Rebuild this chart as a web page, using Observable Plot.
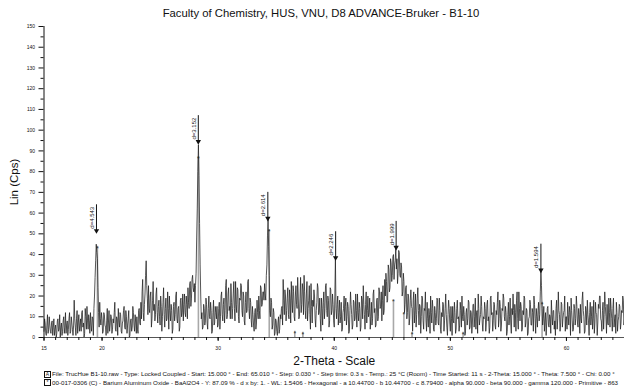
<!DOCTYPE html>
<html>
<head>
<meta charset="utf-8">
<script src="https://cdn.jsdelivr.net/npm/d3@7"></script>
<script src="https://cdn.jsdelivr.net/npm/@observablehq/plot@0.6"></script>
<style>
  html, body { margin: 0; padding: 0; background: #fff; }
  #wrap { position: relative; width: 624px; height: 386px; overflow: hidden; font-family: "Liberation Sans", Arial, sans-serif; }
  #title { position: absolute; top: 7px; left: 0; width: 642px; text-align: center; font-size: 11.3px; color: #111; }
  .foot { position: absolute; left: 44px; font-size: 6.2px; color: #111; white-space: nowrap; line-height: 7px; }
  .ico { display: inline-block; width: 5px; height: 5px; border: 0.6px solid #111; font-size: 5px; line-height: 5px; text-align: center; margin-right: 1px; vertical-align: middle; }
  #chart { position: absolute; top: 0; left: 0; }
</style>
</head>
<body>
<div id="wrap">
  <div id="chart"></div>
  <div id="title">Faculty of Chemistry, HUS, VNU, D8 ADVANCE-Bruker - B1-10</div>
  <div class="foot" style="top:370px"><span class="ico">A</span>File: TrucHue B1-10.raw - Type: Locked Coupled - Start: 15.000 ° - End: 65.010 ° - Step: 0.030 ° - Step time: 0.3 s - Temp.: 25 °C (Room) - Time Started: 11 s - 2-Theta: 15.000 ° - Theta: 7.500 ° - Chi: 0.00 °</div>
  <div class="foot" style="top:378.5px"><span class="ico">*</span>00-017-0306 (C) - Barium Aluminum Oxide - BaAl2O4 - Y: 87.09 % - d x by: 1. - WL: 1.5406 - Hexagonal - a 10.44700 - b 10.44700 - c 8.79400 - alpha 90.000 - beta 90.000 - gamma 120.000 - Primitive - 863</div>
</div>
<script>
// Intensity (Lin, Cps) per 0.05° 2-Theta, one row per degree starting at 15°
const thetaStart = 15;
const stepsPerDegree = 20;
const counts = [
  [3,9,7,2,1,6,11,2,4,10,6,3,2,7,8,1,5,9,1,4],          // 15
  [6,0,2,8,9,3,4,11,0,5,7,1,3,8,10,2,5,12,2,6],         // 16
  [8,1,4,9,12,2,3,10,7,4,1,6,18,9,5,1,9,13,2,7],        // 17
  [11,3,6,9,3,12,13,5,7,0,2,14,10,4,15,8,4,11,8,2],     // 18
  [12,6,3,10,9,1,14,20,29,37,45,41,38,24,12,5,17,9,6,12], // 19
  [9,2,3,12,11,6,5,1,8,14,2,7,13,3,6,11,10,2,4,9],      // 20
  [7,12,17,4,3,10,9,1,14,8,5,12,11,3,2,7,8,13,15,5],    // 21
  [4,13,10,2,6,9,13,0,1,8,9,3,5,15,12,6,3,11,7,2],      // 22
  [10,4,2,13,14,7,6,17,9,22,28,12,8,16,21,30,37,25,19,11], // 23
  [25,14,12,20,22,5,9,18,27,13,16,8,11,21,24,12,7,15,18,10], // 24
  [6,20,15,3,10,17,24,11,5,14,19,8,9,22,14,4,20,13,8,16], // 25
  [13,2,4,15,17,8,11,20,22,9,7,14,15,3,5,18,19,10,12,21], // 26
  [8,16,21,12,10,20,16,9,24,17,14,26,27,15,19,28,30,24,22,26], // 27
  [17,25,31,48,62,80,93,78,55,35,20,9,12,4,5,16,14,6,8,19], // 28
  [16,7,4,14,20,10,9,17,13,2,3,12,18,6,7,15,12,9,15,5], // 29
  [6,14,17,4,10,20,22,11,8,16,19,7,13,25,28,9,11,21,24,13], // 30
  [15,9,26,17,9,14,21,27,14,8,27,16,12,24,23,10,7,19,18,26], // 31
  [25,13,10,22,20,8,6,17,22,12,13,27,28,14,9,19,17,8,5,15], // 32
  [11,6,3,12,14,4,7,18,12,9,20,13,9,25,24,15,16,22,22,18], // 33
  [26,21,18,30,35,49,57,44,30,13,10,19,17,4,6,14,12,1,2,9], // 34
  [8,3,1,7,10,2,4,11,9,14,15,6,28,18,11,23,20,8,13,19], // 35
  [24,11,9,23,19,7,27,18,12,25,22,10,8,20,25,16,14,29,20,9], // 36
  [10,19,29,12,16,26,23,11,30,22,13,9,21,27,8,14,18,25,11,4], // 37
  [26,15,7,18,15,23,20,9,5,13,17,26,24,11,12,19,9,3,19,14], // 38
  [6,17,22,9,14,25,26,13,10,20,18,5,8,24,23,11,13,21,16,8], // 39
  [5,20,38,14,9,16,20,6,12,18,7,10,17,3,4,12,14,20,8,15], // 40
  [19,6,10,17,15,2,3,13,22,16,11,4,6,18,17,8,9,21,13,5], // 41
  [21,12,8,17,14,3,5,20,18,9,25,16,11,4,16,22,7,13,20,10], // 42
  [12,19,4,10,17,6,9,21,23,12,14,5,6,18,19,8,10,24,22,14], // 43
  [15,22,8,18,25,11,13,28,20,31,27,17,18,35,33,22,24,38,36,27], // 44
  [30,39,40,28,35,37,43,33,38,26,31,42,41,30,29,36,34,20,22,31], // 45
  [27,12,16,24,25,9,12,21,20,6,9,18,23,15,14,3,18,22,7,13], // 46
  [21,5,11,19,24,13,6,16,15,2,10,20,19,8,4,14,13,22,8,3], // 47
  [17,9,5,14,11,2,20,12,7,18,14,4,3,15,12,6,9,19,18,7], // 48
  [6,19,13,4,2,12,10,17,16,3,8,14,21,11,5,1,11,18,14,7], // 49
  [3,15,9,1,15,8,7,17,12,2,4,14,18,9,10,3,6,17,13,5], // 50
  [20,10,8,15,11,1,2,12,14,6,9,18,17,4,5,13,12,2,7,16], // 51
  [16,5,10,19,4,12,13,2,21,14,6,9,11,20,15,7,3,10,9,17], // 52
  [14,3,7,16,18,8,10,2,5,19,20,11,12,3,8,17,16,6,4,13], // 53
  [11,17,22,5,9,18,15,3,6,14,13,21,19,10,8,15,12,1,3,11], // 54
  [17,6,10,19,7,2,14,11,21,13,5,16,12,3,18,22,9,4,22,14], // 55
  [8,17,15,3,4,13,11,20,19,5,7,14,13,1,2,9,10,18,16,6], // 56
  [6,14,12,3,20,16,9,2,14,10,5,13,17,8,11,22,32,25,14,6], // 57
  [9,15,3,8,12,1,7,14,15,6,5,11,10,2,18,11,6,13,13,4], // 58
  [8,1,14,18,4,9,22,13,11,3,7,17,16,5,9,12,13,20,3,10], // 59
  [10,4,17,11,6,15,12,1,19,13,8,3,4,16,14,6,9,20,15,7], // 60
  [5,14,11,2,16,9,7,18,22,13,10,2,3,15,13,6,18,11,8,1], // 61
  [12,17,6,10,15,4,9,18,2,7,17,12,11,1,7,16,14,20,20,9], // 62
  [8,3,13,17,4,11,22,15,10,2,16,7,6,19,12,5,19,14,9,3], // 63
  [14,19,5,9,11,2,17,12,3,8,10,16,15,4,7,13,12,20,18,6], // 64
  [9]                                                    // 65
];

// Marked peaks
const peakTheta = [19.52, 28.29, 34.28, 40.12, 45.33, 57.80];
const peakLabel = ["d=4.543", "d=3.152", "d=2.614", "d=2.246", "d=1.999", "d=1.594"];
const peakI = [51, 94, 57, 38, 43, 32];

// Reference pattern sticks (00-017-0306 BaAl2O4)
const refTheta = [19.6, 28.3, 34.4, 36.6, 37.3, 45.1, 46.0, 46.7, 51.1, 57.9];
const refI = [44, 87, 52, 3, 2.5, 18, 12, 2.5, 2.5, 17];

// Axis ticks
const xTickLabels = [15, 20, 30, 40, 50, 60];
const xMinorTicks = d3.range(15, 66, 1);
const yTickLabels = d3.range(0, 151, 10);
const yMinorTicks = d3.range(5, 150, 10);

const scan = counts.flatMap((row, r) => row.map((v, i) => ({t: thetaStart + r + i / stepsPerDegree, c: v})));
const peaks = peakTheta.map((t, i) => ({t, label: peakLabel[i], y: peakI[i]}));
const refs = refTheta.map((t, i) => ({t, y: refI[i]}));

const chart = Plot.plot({
  width: 624,
  height: 386,
  marginLeft: 43.5,
  marginRight: 0,
  marginTop: 26,
  marginBottom: 49,
  style: {fontFamily: "'Liberation Sans', Arial, sans-serif", background: "transparent", color: "#111"},
  x: {domain: [15, 65]},
  y: {domain: [0, 150]},
  marks: [
    // reference sticks
    Plot.ruleX(refs, {x: "t", y1: 0, y2: "y", stroke: "#a8a8a8", strokeWidth: 1.6}),
    Plot.text(refs, {x: "t", y: "y", text: () => "*", fontSize: 7, fill: "#333", dy: 2}),
    // scan
    Plot.line(scan, {x: "t", y: "c", stroke: "#1e1e1e", strokeWidth: 0.75}),
    // axes lines
    Plot.ruleY([0], {stroke: "#555", strokeWidth: 1}),
    Plot.ruleX([15], {y1: 0, y2: 150, stroke: "#111", strokeWidth: 1}),
    Plot.axisY(yTickLabels, {tickSize: 5, tickPadding: 4, fontSize: 5, label: null, tickFormat: d => String(d)}),
    Plot.axisY(yMinorTicks, {tickSize: 3, tickFormat: () => "", label: null}),
    Plot.axisX(xMinorTicks, {tickSize: 3, tickFormat: () => "", label: null}),
    Plot.axisX(xTickLabels, {tickSize: 4, tickPadding: 5, fontSize: 5, label: null, tickFormat: d => String(d)}),
    // peak markers
    Plot.ruleX(peaks, {x: "t", y1: "y", y2: d => d.y + 13, stroke: "#111", strokeWidth: 1}),
    Plot.dot(peaks, {x: "t", y: "y", symbol: "triangle", rotate: 180, r: 2, fill: "#111", stroke: "none", dy: -1}),
    Plot.text(peaks, {x: "t", y: d => d.y + 1.5, text: "label", rotate: -90, textAnchor: "start", lineAnchor: "bottom", fontSize: 6, dx: -2.5, fill: "#111"}),
    // axis titles
    Plot.text(["Lin (Cps)"], {frameAnchor: "left", textAnchor: "middle", rotate: -90, dx: -29.5, fontSize: 11.5, fill: "#111"}),
    Plot.text(["2-Theta - Scale"], {frameAnchor: "bottom", textAnchor: "middle", dy: 27.5, fontSize: 12, fill: "#111"})
  ]
});
document.getElementById("chart").appendChild(chart);
</script>
</body>
</html>
